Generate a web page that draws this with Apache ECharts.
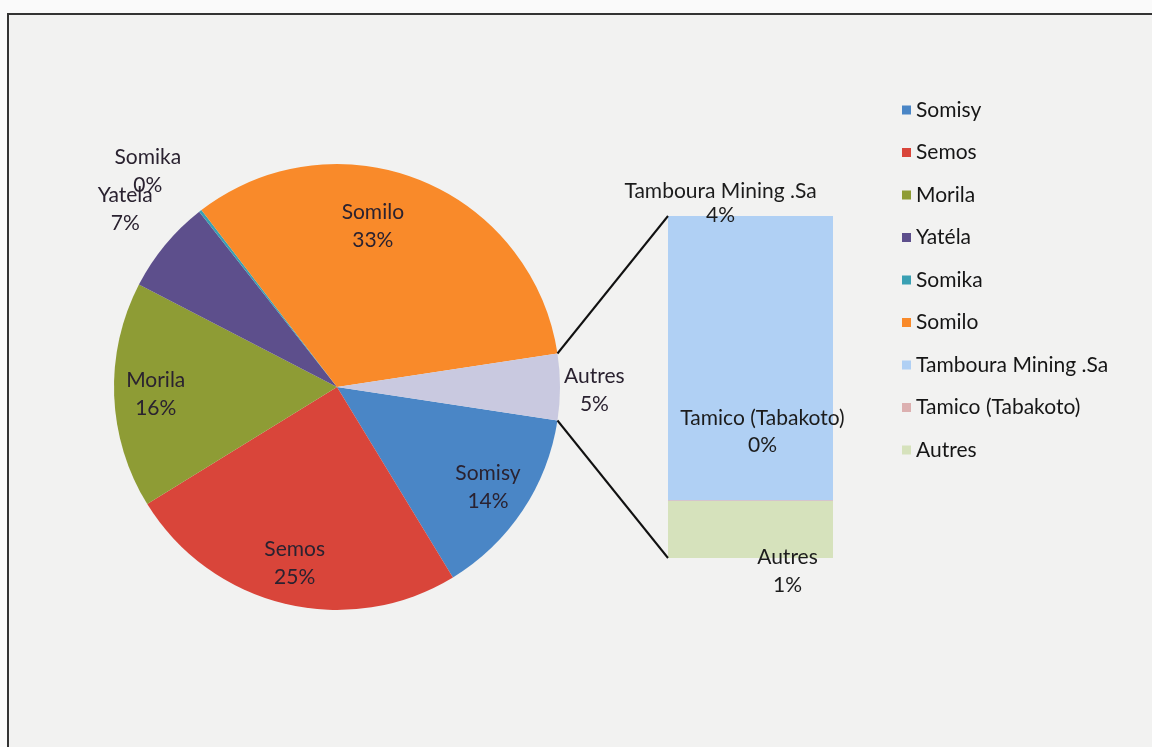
<!DOCTYPE html>
<html>
<head>
<meta charset="utf-8">
<script src="https://cdn.jsdelivr.net/npm/echarts@6/dist/echarts.min.js"></script>
<style>
  html, body { margin: 0; padding: 0; background: #fafafa; }
  #main { width: 1152px; height: 747px; }
</style>
</head>
<body>
<div id="main"></div>
<script>
// main pie (percent of total); "Autres" is the sum of the bar below
var pieNames = ["Somisy", "Semos", "Morila", "Yatéla", "Somika", "Somilo"];
var pieValues = [13.9, 24.9, 16.4, 6.8, 0.2, 33.0];
var pieLabels = ["Somisy", "Semos", "Morila", "Yatela", "Somika", "Somilo"];

// secondary bar, from top to bottom
var barNames = ["Tamboura Mining .Sa", "Tamico (Tabakoto)", "Autres"];
var barValues = [3.99, 0.01, 0.8];

var pieColors = ["#4a86c6", "#d9453a", "#8e9c35", "#5d4f8c", "#3aa0b3", "#f98a2a"];
var otherColor = "#c9c9e0";
var barColors = ["#b0d0f4", "#dcb0b0", "#d6e2bc"];

var font = "Lato, 'Open Sans', sans-serif";
var cx = 337, cy = 387, R = 223;
var gLeft = 668, gTop = 216, gW = 165, gH = 342;

var otherTotal = barValues.reduce(function (a, b) { return a + b; }, 0);
var total = pieValues.reduce(function (a, b) { return a + b; }, 0) + otherTotal;
var otherAngle = otherTotal / total * 360;
var startAngle = -otherAngle / 2;

function pct(v) { return Math.round(v / total * 100) + "%"; }

var pieData = pieNames.map(function (n, i) {
  return { name: n, value: pieValues[i], label: pieLabels[i], itemStyle: { color: pieColors[i] } };
});
pieData.push({ name: "Autres", value: otherTotal, label: "Autres", itemStyle: { color: otherColor } });

// label nudges, Excel put a few of them elsewhere
var labelOffsets = {
  "Somilo": [-32, 7],
  "Yatéla": [-72, -62],
  "Somika": [-78, -72],
  "Autres": [76, 3]
};

var myChart = echarts.init(document.getElementById("main"));

var barSeries = [];
var labelPos = [
  { position: "top", offset: [-30, 16], lineHeight: 24 },
  { position: "inside", offset: [12, -69], lineHeight: 27 },
  { position: "inside", offset: [37, 42], lineHeight: 28 }
];
// stack bottom first
for (var k = barNames.length - 1; k >= 0; k--) {
  barSeries.push({
    name: barNames[k],
    type: "bar",
    stack: "other",
    barWidth: "100%",
    data: [barValues[k]],
    itemStyle: { color: barColors[k] },
    label: {
      show: true,
      position: labelPos[k].position,
      offset: labelPos[k].offset,
      formatter: barNames[k] + "\n" + pct(barValues[k]),
      color: "#1c1c1c",
      fontFamily: font,
      fontSize: 21,
      lineHeight: labelPos[k].lineHeight
    }
  });
}

// transparent ring used only to place the pie labels; "only" picks which names get a label
function labelRing(only, skip) {
  return {
    type: "pie",
    name: "labels",
    silent: true,
    avoidLabelOverlap: false,
    center: [cx, cy],
    radius: [R * 0.6, R],
    startAngle: startAngle,
    clockwise: true,
    data: pieData.map(function (d) {
      var on = only ? only.indexOf(d.name) >= 0 : skip.indexOf(d.name) < 0;
      var item = {
        name: d.name,
        value: d.value,
        itemStyle: { color: "rgba(0,0,0,0)" },
        label: { show: on, formatter: d.label + "\n" + pct(d.value) }
      };
      if (labelOffsets[d.name]) item.label.offset = labelOffsets[d.name];
      return item;
    }),
    label: {
      position: "inside",
      color: "#2a2230",
      fontFamily: font,
      fontSize: 21,
      lineHeight: 28
    },
    labelLine: { show: false },
    labelLayout: { hideOverlap: false },
    emphasis: { disabled: true }
  };
}

var option = {
  backgroundColor: "transparent",
  animation: false,
  legend: {
    orient: "vertical",
    left: 897,
    top: 94,
    icon: "rect",
    itemWidth: 9,
    itemHeight: 9,
    itemGap: 20.5,
    data: pieNames.concat(barNames),
    textStyle: { fontFamily: font, fontSize: 21, color: "#161616", lineHeight: 22 }
  },
  grid: { left: gLeft, top: gTop, width: gW, height: gH },
  xAxis: { type: "category", data: ["autres"], show: false },
  yAxis: { type: "value", min: 0, max: otherTotal, show: false },
  series: [
    {
      type: "pie",
      name: "main",
      center: [cx, cy],
      radius: [0, R],
      startAngle: startAngle,
      clockwise: true,
      data: pieData.map(function (d) {
        return { name: d.name, value: d.value, itemStyle: d.itemStyle };
      }),
      label: { show: false },
      labelLine: { show: false },
      itemStyle: { borderWidth: 0 }
    },
    labelRing(null, ["Somika"]),
    labelRing(["Somika"], null)
  ].concat(barSeries)
};

myChart.setOption(option);

// frame + connector lines, from the pie geometry and the bar grid
var a1 = startAngle * Math.PI / 180;
var a2 = (startAngle + otherAngle) * Math.PI / 180;
var pTop = [cx + R * Math.cos(a2), cy - R * Math.sin(a2)];
var pBot = [cx + R * Math.cos(a1), cy - R * Math.sin(a1)];
var barTop = myChart.convertToPixel({ gridIndex: 0 }, [0, otherTotal]);
var barBot = myChart.convertToPixel({ gridIndex: 0 }, [0, 0]);

myChart.setOption({
  graphic: [
    {
      type: "rect", z: -10, silent: true,
      shape: { x: 8, y: 14, width: 1200, height: 800 },
      style: { fill: "#f2f2f1", stroke: "#333", lineWidth: 2 }
    },
    {
      type: "line", z: 10, silent: true,
      shape: { x1: pTop[0], y1: pTop[1], x2: gLeft, y2: barTop[1] },
      style: { stroke: "#111", lineWidth: 2 }
    },
    {
      type: "line", z: 10, silent: true,
      shape: { x1: pBot[0], y1: pBot[1], x2: gLeft, y2: barBot[1] },
      style: { stroke: "#111", lineWidth: 2 }
    }
  ]
});
</script>
</body>
</html>
